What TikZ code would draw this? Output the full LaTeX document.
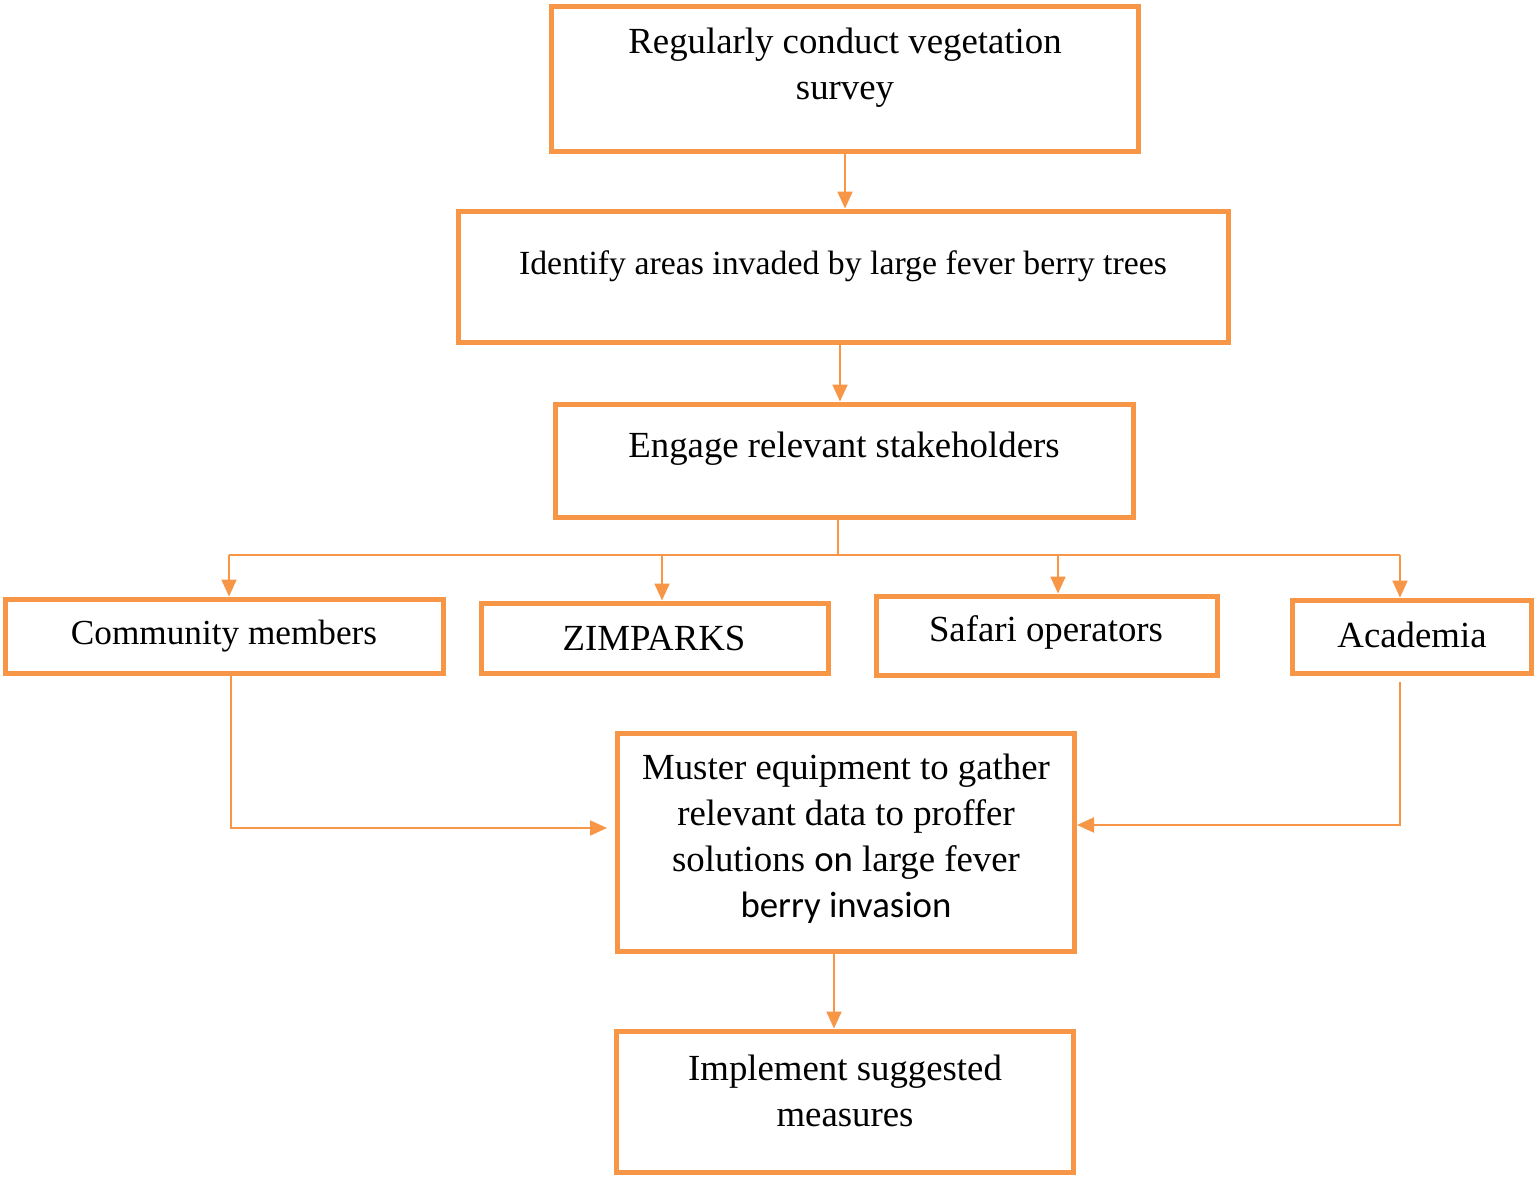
\documentclass[tikz,border=0pt]{standalone}
\usepackage{fontspec}
\setmainfont{Liberation Serif}
\newfontfamily\calfont{Carlito}
\usetikzlibrary{arrows.meta}
\definecolor{org}{HTML}{F79646}
\tikzset{
  box/.style={draw=org, line width=2.5pt, rectangle, inner sep=0pt},
  txt/.style={align=center, font=\fontsize{18.4pt}{23pt}\selectfont, inner sep=0pt},
  arr/.style={draw=org, line width=1pt, -{Triangle[width=7.5pt,length=8.5pt]}},
  ln/.style={draw=org, line width=1pt}
}
\begin{document}
\begin{tikzpicture}[x=0.5pt,y=-0.5pt]
\useasboundingbox (0,0) rectangle (1536,1178);
% boxes
\node[box, minimum width=293.5pt, minimum height=72.5pt] (b1) at (844.5,78.5) {};
\node[box, minimum width=385pt, minimum height=65.5pt] (b2) at (843,276.5) {};
\node[box, minimum width=289pt, minimum height=56.5pt] (b3) at (844,460.5) {};
\node[box, minimum width=219pt, minimum height=37pt] (c1) at (224,636) {};
\node[box, minimum width=173.5pt, minimum height=35pt] (c2) at (654.5,638) {};
\node[box, minimum width=170.5pt, minimum height=39.5pt] (c3) at (1046.5,635.5) {};
\node[box, minimum width=119.5pt, minimum height=36.5pt] (c4) at (1411.5,636.5) {};
\node[box, minimum width=228.5pt, minimum height=109pt] (m) at (845.5,842) {};
\node[box, minimum width=228.5pt, minimum height=70.5pt] (imp) at (844.5,1101.5) {};
% texts
\node[txt] (t1) at (845,68) {Regularly conduct vegetation\\survey};
\node[txt, font=\fontsize{16.9pt}{23pt}\selectfont] (t2) at (843,266) {Identify areas invaded by large fever berry trees};
\node[txt] (t3) at (844,449) {Engage relevant stakeholders};
\node[txt, font=\fontsize{17.6pt}{23pt}\selectfont] (tc1) at (224,636) {Community members};
\node[txt] (tc2) at (654,638) {ZIMPARKS};
\node[txt] (tc3) at (1046,632) {Safari operators};
\node[txt] (tc4) at (1412,635) {Academia};
\node[txt] (tm) at (846,839) {Muster equipment to gather\\relevant data to proffer\\solutions {\calfont on} large fever\\{\calfont berry invasion}};
\node[txt] (ti) at (845,1091) {Implement suggested\\measures};
% connector coordinates
\coordinate (x1) at (845,0);
\coordinate (x2) at (840,0);
\coordinate (j) at (838,555);
\coordinate (bl) at (229,555);
\coordinate (bz) at (662,555);
\coordinate (bs) at (1058,555);
\coordinate (br) at (1400,555);
\coordinate (lx) at (231,0);
\coordinate (la) at (607,828);
\coordinate (ra) at (1400,682);
\coordinate (rb) at (1077,825);
\coordinate (mx) at (834,0);
% connectors
\draw[arr] (b1.south -| x1) -- (b2.north -| x1);
\draw[arr] (b2.south -| x2) -- (b3.north -| x2);
\draw[ln] (b3.south -| j) -- (j);
\draw[ln] (bl) -- (br);
\draw[arr] (bl) -- (c1.north -| bl);
\draw[arr] (bz) -- (c2.north -| bz);
\draw[arr] (bs) -- (c3.north -| bs);
\draw[arr] (br) -- (c4.north -| br);
\draw[arr] (c1.south -| lx) |- (la);
\draw[arr] (ra) |- (rb);
\draw[arr] (m.south -| mx) -- (imp.north -| mx);
\end{tikzpicture}
\end{document}
